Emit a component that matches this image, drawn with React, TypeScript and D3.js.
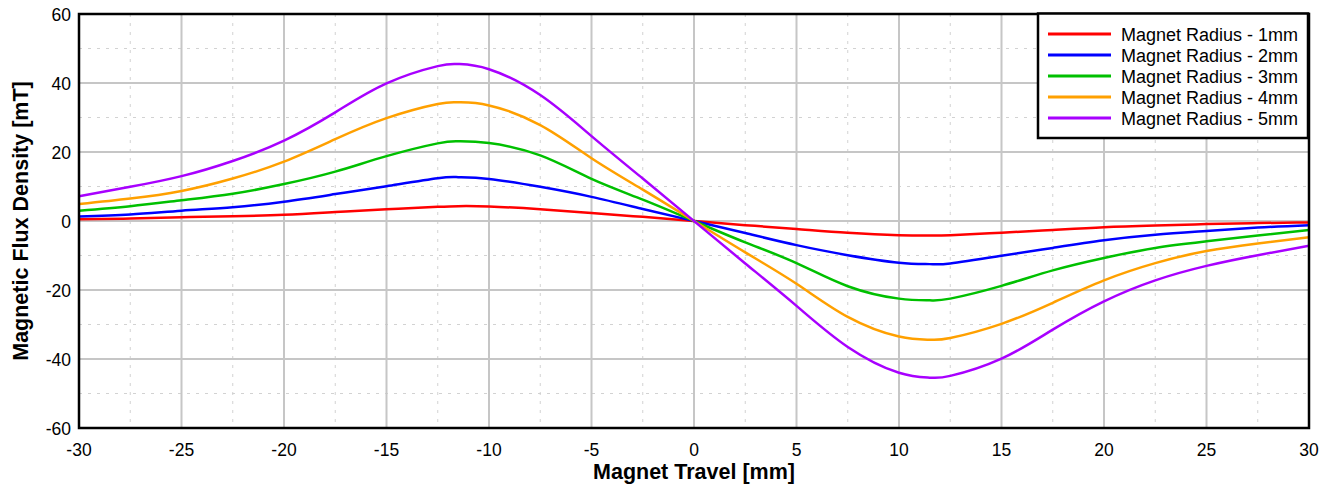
import React from "react";
import * as d3 from "d3";

const travel = [-30, -27.5, -25, -22.5, -20, -17.5, -15, -12.5, -11.5, -10, -7.5, -5, -2.5, 0, 2.5, 5, 7.5, 10, 11.5, 12.5, 15, 17.5, 20, 22.5, 25, 27.5, 30];

const radius1 = [0.5, 0.7, 1.1, 1.4, 1.8, 2.6, 3.4, 4.1, 4.3, 4.2, 3.4, 2.3, 1.2, 0, -1.2, -2.3, -3.4, -4.1, -4.2, -4.1, -3.4, -2.6, -1.8, -1.3, -0.9, -0.6, -0.4];
const radius2 = [1.3, 1.9, 3.0, 4.0, 5.6, 7.8, 10.1, 12.4, 12.7, 12.2, 9.9, 7.0, 3.5, 0, -3.5, -7.0, -9.9, -12.1, -12.5, -12.3, -10.1, -7.8, -5.6, -4.0, -2.9, -1.9, -1.2];
const radius3 = [3.0, 4.3, 6.0, 7.9, 10.7, 14.3, 18.8, 22.5, 23.1, 22.6, 19.0, 12.2, 6.2, 0, -6.2, -12.2, -18.9, -22.5, -23.0, -22.5, -18.8, -14.3, -10.7, -7.8, -5.9, -4.2, -2.6];
const radius4 = [4.9, 6.5, 8.7, 12.3, 17.2, 23.7, 29.8, 33.9, 34.4, 33.5, 27.8, 18.2, 9.1, 0, -9.1, -18.2, -27.8, -33.5, -34.4, -33.9, -29.8, -23.7, -17.2, -12.2, -8.7, -6.5, -4.7];
const radius5 = [7.2, 9.9, 13.0, 17.4, 23.3, 31.5, 39.9, 44.9, 45.5, 44.0, 36.5, 24.6, 12.3, 0, -12.3, -24.6, -36.5, -44.0, -45.4, -44.9, -39.9, -31.5, -23.3, -17.2, -13.0, -9.9, -7.2];

const seriesNames = ["Magnet Radius - 1mm", "Magnet Radius - 2mm", "Magnet Radius - 3mm", "Magnet Radius - 4mm", "Magnet Radius - 5mm"];
const seriesColors = ["#ff0000", "#0000ff", "#00c000", "#ffa000", "#a800ff"];
const seriesValues = [radius1, radius2, radius3, radius4, radius5];

const xTicks = [-30, -25, -20, -15, -10, -5, 0, 5, 10, 15, 20, 25, 30];
const yTicks = [-60, -40, -20, 0, 20, 40, 60];
const xMinor = [-27.5, -22.5, -17.5, -12.5, -7.5, -2.5, 2.5, 7.5, 12.5, 17.5, 22.5, 27.5];
const yMinor = [-50, -30, -10, 10, 30, 50];

const W = 1330;
const H = 486;
const L = 79, R = 1309, T = 14, B = 428;
const FONT = "Arial, 'Liberation Sans', sans-serif";

export default function App() {
  const x = d3.scaleLinear().domain([-30, 30]).range([L, R]);
  const y = d3.scaleLinear().domain([-60, 60]).range([B, T]);
  const line = d3
    .line<number>()
    .x((_, i) => x(travel[i]))
    .y((v) => y(v))
    .curve(d3.curveNatural);

  return (
    <svg width={W} height={H} style={{ position: "absolute", left: 0, top: 0, background: "#fff" }} fontFamily={FONT}>
      <rect x={0} y={0} width={W} height={H} fill="#fff" />
      {xMinor.map((t) => (
        <line key={"xm" + t} x1={x(t)} x2={x(t)} y1={T} y2={B} stroke="#d2d2d2" strokeWidth={1} strokeDasharray="3,6" />
      ))}
      {yMinor.map((t) => (
        <line key={"ym" + t} x1={L} x2={R} y1={y(t)} y2={y(t)} stroke="#d2d2d2" strokeWidth={1} strokeDasharray="3,6" />
      ))}
      {xTicks.map((t) => (
        <line key={"xg" + t} x1={x(t)} x2={x(t)} y1={T} y2={B} stroke="#c6c6c6" strokeWidth={2} />
      ))}
      {yTicks.map((t) => (
        <line key={"yg" + t} x1={L} x2={R} y1={y(t)} y2={y(t)} stroke="#c6c6c6" strokeWidth={2} />
      ))}
      {seriesValues.map((vals, i) => (
        <path key={"s" + i} d={line(vals) || ""} fill="none" stroke={seriesColors[i]} strokeWidth={2.5} />
      ))}
      <rect x={L} y={T} width={R - L} height={B - T} fill="none" stroke="#000" strokeWidth={2.5} />
      {xTicks.map((t) => (
        <text key={"xt" + t} x={x(t)} y={456} textAnchor="middle" fontSize={17.5} fill="#000">
          {t}
        </text>
      ))}
      {yTicks.map((t) => (
        <text key={"yt" + t} x={71} y={y(t) + 6.5} textAnchor="end" fontSize={17.5} fill="#000">
          {t}
        </text>
      ))}
      <text x={(L + R) / 2} y={479} textAnchor="middle" fontSize={21.5} fontWeight="bold" fill="#000">
        Magnet Travel [mm]
      </text>
      <text
        transform={`translate(28,${(T + B) / 2}) rotate(-90)`}
        textAnchor="middle"
        fontSize={21.5}
        fontWeight="bold"
        fill="#000"
      >
        Magnetic Flux Density [mT]
      </text>
      <rect x={1038} y={13.5} width={270} height={124.5} fill="#fff" stroke="#000" strokeWidth={2.5} />
      {seriesNames.map((n, i) => {
        const cy = 34 + i * 21;
        return (
          <g key={"lg" + i}>
            <line x1={1048} x2={1111} y1={cy} y2={cy} stroke={seriesColors[i]} strokeWidth={3} />
            <text x={1121} y={cy + 6.5} fontSize={18} fill="#000">
              {n}
            </text>
          </g>
        );
      })}
    </svg>
  );
}
